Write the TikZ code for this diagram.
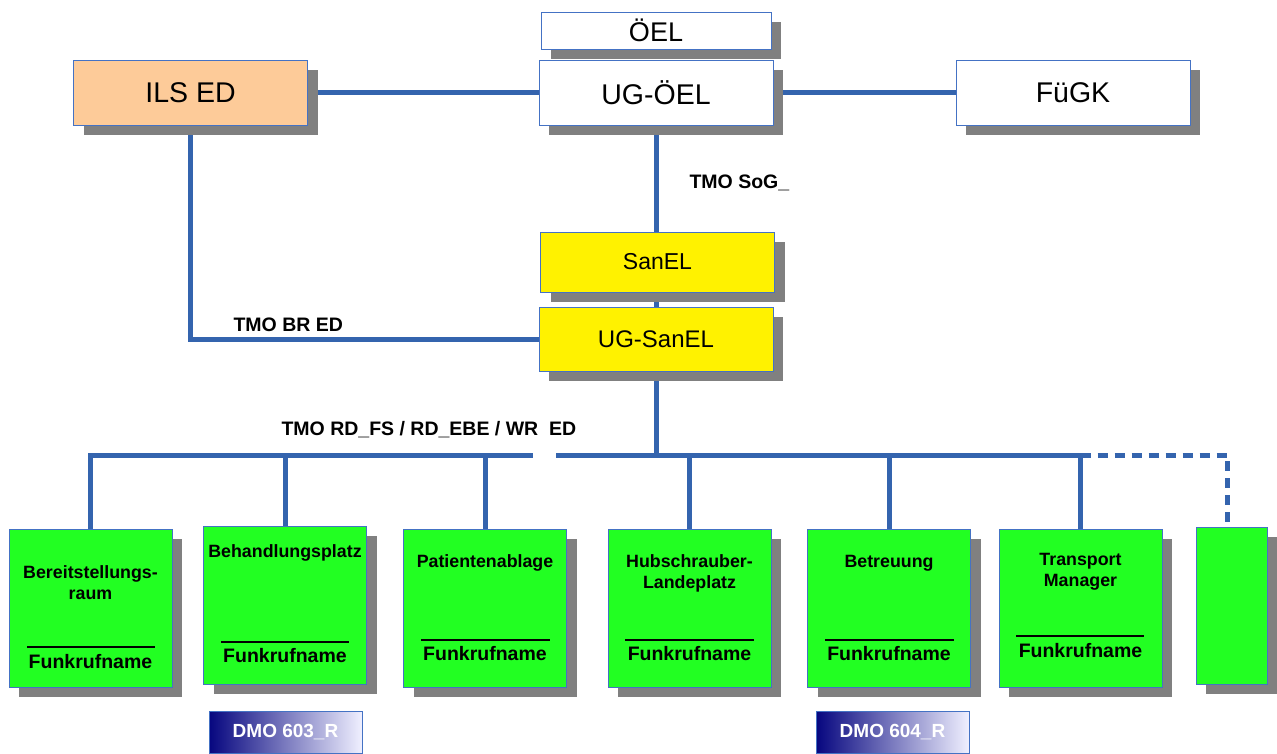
\documentclass[tikz,border=0pt]{standalone}
\usepackage{fontspec}
\setmainfont{Liberation Sans}
\usetikzlibrary{shadows,backgrounds}
\definecolor{blaulinie}{HTML}{3464AE}
\definecolor{rand}{HTML}{4472C4}
\definecolor{gruen}{HTML}{22FF22}
\definecolor{pfirsich}{HTML}{FDCB99}
\definecolor{marine}{HTML}{06067F}
\tikzset{
  kasten/.style={draw=rand,line width=1pt,inner sep=0pt,
    drop shadow={shadow xshift=10pt,shadow yshift=-10pt,fill=gray,opacity=1}},
  gross/.style={kasten,minimum width=234pt,minimum height=65pt,font=\fontsize{28.5}{32}\selectfont},
  gelbbox/.style={kasten,fill=yellow,minimum width=234pt,font=\fontsize{23}{26}\selectfont},
  gruenbox/.style={kasten,fill=gruen,minimum width=163pt,minimum height=158pt},
  titel/.style={align=center,font=\fontsize{17.8}{21}\selectfont\bfseries},
  funk/.style={font=\fontsize{19.5}{22}\selectfont\bfseries},
  trenn/.style={line width=2pt},
  leitung/.style={draw=blaulinie,line width=5pt},
  funkweg/.style={anchor=west,font=\fontsize{19.5}{22}\selectfont\bfseries},
  dmo/.style={draw=rand,line width=1pt,left color=marine,right color=blue!6!white,text=white,
    minimum width=153pt,minimum height=42pt,font=\fontsize{19}{22}\selectfont\bfseries}
}
\begin{document}
\begin{tikzpicture}[x=1pt,y=-1pt]
  \useasboundingbox (0,0) rectangle (1277,753);
  % Leitstellen oben
  \node[gross,fill=white,minimum width=230pt,minimum height=37pt,font=\fontsize{27}{30}\selectfont] (oel) at (656,30.5) {ÖEL};
  \node[gross,fill=white] (ugoel) at (656,92.5) {UG-ÖEL};
  \node[gross,fill=pfirsich] (ils) at (190.5,92.5) {ILS ED};
  \node[gross,fill=white] (fugk) at (1073,92.5) {FüGK};
  \node[gelbbox,minimum height=60pt] (sanel) at (657.5,262) {SanEL};
  \node[gelbbox,minimum height=64pt,font=\fontsize{24}{26}\selectfont] (ugsanel) at (656,339) {UG-SanEL};
  % Abschnitte unten
  \node[gruenbox] (bsr) at (90.5,608) {};
  \node[gruenbox] (bhp) at (285,605) {};
  \node[gruenbox] (pa) at (485,608) {};
  \node[gruenbox] (hlp) at (689.5,608) {};
  \node[gruenbox] (btr) at (889,608) {};
  \node[gruenbox] (tm) at (1080.5,608) {};
  \node[gruenbox,minimum width=71pt,minimum height=157pt] (leer) at (1231.5,605.5) {};
  \node[titel] (bsrt) at (90.5,582.5) {Bereitstellungs-\\raum};
  \node[titel] (bhpt) at (285,553) {Behandlungsplatz};
  \node[titel] (pat) at (485,563) {Patientenablage};
  \node[titel] (hlpt) at (689.5,573.5) {Hubschrauber-\\Landeplatz};
  \node[titel] (btrt) at (889,563) {Betreuung};
  \node[titel] (tmt) at (1080.5,571.5) {Transport\\Manager};
  \node[funk] (bsrf) at (90.5,662) {Funkrufname};
  \node[funk] (bhpf) at (285,656) {Funkrufname};
  \node[funk] (paf) at (485,654) {Funkrufname};
  \node[funk] (hlpf) at (689.5,654) {Funkrufname};
  \node[funk] (btrf) at (889,654) {Funkrufname};
  \node[funk] (tmf) at (1080.5,651) {Funkrufname};
  \draw[trenn] (27,647) -- (155,647); \draw[trenn] (221,642) -- (349,642);
  \draw[trenn] (421,640) -- (550,640); \draw[trenn] (625,640) -- (754,640);
  \draw[trenn] (825,640) -- (954,640); \draw[trenn] (1016,636) -- (1144,636);
  \node[dmo] (dmoa) at (285.5,732) {DMO 603\_R};
  \node[dmo] (dmob) at (892.5,732) {DMO 604\_R};
  % Funkwege
  \node[funkweg] (sog) at (686,183) {TMO SoG\_};
  \node[funkweg] (br) at (230,325) {TMO BR ED};
  \node[funkweg] (rd) at (278,430) {TMO RD\_FS / RD\_EBE / WR~~ED};
  \coordinate (gl) at (533,455);
  \coordinate (gr) at (556,455);
  \begin{scope}[on background layer]
    \draw[leitung] (ils.east) -- (ugoel.west);
    \draw[leitung] (ugoel.east) -- (fugk.west);
    \draw[leitung] (ugoel.south) -- (ugoel.south |- ugsanel.north);
    \draw[leitung] (ils.south) |- (ugsanel.west);
    \draw[leitung] (ugsanel.south) -- (ugsanel.south |- gr);
    \draw[leitung] (bsr.north) |- (gl);
    \draw[leitung] (gr) -| (tm.north);
    \foreach \n in {bhp,pa,hlp,btr} \draw[leitung] (\n.north) -- (\n.north |- gl);
    \draw[leitung,dash pattern=on 10pt off 7pt] (tm.north |- gr) -| ([xshift=-4pt]leer.north);
  \end{scope}
\end{tikzpicture}
\end{document}
